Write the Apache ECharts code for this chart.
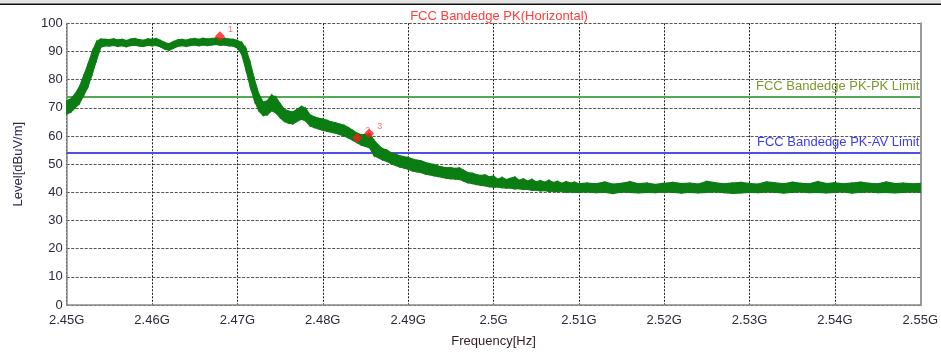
<!DOCTYPE html>
<html>
<head>
<meta charset="utf-8">
<script src="https://cdn.jsdelivr.net/npm/echarts@6/dist/echarts.min.js"></script>
<style>
html,body{margin:0;padding:0;background:#fff;}
#c{width:941px;height:354px;}
</style>
</head>
<body>
<div id="c"></div>
<script>
// Frequency in MHz
var freqMHz = [
2450,2450.5,2451,2451.5,2452,2452.5,2453,2453.5,2454,2454.5,
2455,2455.5,2456,2456.5,2457,2457.5,2458,2458.5,2459,2459.5,
2460,2460.5,2461,2461.5,2462,2462.5,2463,2463.5,2464,2464.5,
2465,2465.5,2466,2466.5,2467,2467.5,2468,2468.5,2469,2469.5,
2470,2470.5,2471,2471.5,2472,2472.5,2473,2473.5,2474,2474.5,
2475,2475.5,2476,2476.5,2477,2477.5,2478,2478.5,2479,2479.5,
2480,2480.5,2481,2481.5,2482,2482.5,2483,2483.5,2484,2484.5,
2485,2485.5,2486,2486.5,2487,2487.5,2488,2488.5,2489,2489.5,
2490,2490.5,2491,2491.5,2492,2492.5,2493,2493.5,2494,2494.5,
2495,2495.5,2496,2496.5,2497,2497.5,2498,2498.5,2499,2499.5,
2500,2500.5,2501,2501.5,2502,2502.5,2503,2503.5,2504,2504.5,
2505,2505.5,2506,2506.5,2507,2507.5,2508,2508.5,2509,2509.5,
2510,2511,2512,2513,2514,2515,2516,2517,2518,2519,
2520,2521,2522,2523,2524,2525,2526,2527,2528,2529,
2530,2531,2532,2533,2534,2535,2536,2537,2538,2539,
2540,2541,2542,2543,2544,2545,2546,2547,2548,2549,2550
];
// Upper envelope of the trace [dBuV/m]
var levelHigh = [
72.5,73.2,75.0,77.5,81.5,85.5,90.0,93.5,94.4,94.3,
94.2,94.5,94.1,94.3,93.9,94.4,94.6,94.2,94.0,94.5,
94.3,94.6,93.9,93.2,92.7,93.5,94.1,94.3,94.0,94.4,
94.6,94.3,94.7,94.4,94.6,94.8,94.5,94.7,94.4,94.3,
93.9,93.2,91.0,86.0,80.0,75.0,72.0,72.5,74.5,73.8,
71.5,69.5,68.8,68.5,69.5,70.5,69.8,67.5,66.8,66.3,
66.0,65.6,65.0,64.7,64.2,63.8,63.0,62.0,61.0,60.5,
60.5,60.8,58.5,56.8,55.5,55.0,54.0,53.6,53.0,52.6,
52.4,51.8,51.4,51.2,50.6,50.2,49.9,49.3,49.0,48.7,
48.8,48.5,48.7,47.8,47.0,46.8,46.3,46.0,46.2,45.5,
45.8,44.6,45.3,44.5,45.0,45.4,44.3,44.8,44.0,44.6,
43.7,44.2,43.6,44.3,43.5,43.9,43.2,43.8,43.3,43.6,
43.0,43.3,43.0,43.7,42.9,43.2,43.8,43.0,43.3,42.8,
43.2,43.5,43.1,43.3,42.9,43.9,43.4,43.0,43.3,43.5,
43.1,42.9,43.7,43.4,43.0,43.6,43.2,43.0,43.8,43.1,
43.4,43.0,43.3,43.6,43.2,43.0,43.7,43.1,43.3,43.0,43.2
];
// Lower envelope of the trace [dBuV/m]
var levelLow = [
67.8,68.5,70.0,71.5,74.5,77.5,82.0,87.0,91.5,92.0,
91.9,92.1,91.8,92.0,91.7,92.1,92.2,91.9,91.8,92.2,
92.0,92.1,91.6,90.8,90.4,91.1,91.8,92.0,91.8,92.1,
92.3,92.0,92.3,92.1,92.3,92.5,92.2,92.3,92.0,91.9,
91.2,89.0,83.5,77.5,72.5,69.0,67.3,67.5,69.0,68.2,
66.5,65.2,64.5,64.3,65.2,66.0,65.3,63.6,63.0,62.5,
62.0,61.7,61.3,61.0,60.5,60.0,59.3,58.5,57.6,56.8,
56.3,55.8,53.0,52.3,51.5,51.0,50.2,49.6,49.0,48.6,
48.2,47.6,47.3,47.0,46.5,46.2,45.9,45.6,45.3,45.0,
44.8,44.7,44.6,44.0,43.4,43.1,42.8,42.5,42.3,42.0,
41.8,41.9,41.6,41.5,41.5,41.2,41.3,41.0,41.0,40.7,
40.8,40.5,40.6,40.3,40.4,40.2,40.3,40.0,40.1,40.0,
40.0,40.1,39.9,40.0,39.6,40.1,40.0,39.8,40.0,39.9,
40.1,40.0,39.7,40.0,39.8,40.0,40.1,39.9,39.6,39.8,
40.0,39.9,40.1,40.0,39.7,40.0,40.1,39.9,40.0,39.8,
40.0,40.1,39.7,40.0,40.1,39.9,40.0,39.8,40.0,40.1,40.0
];
// Markers
var markerNames = ['1','2','3'];
var markerFreqMHz = [2467.95, 2484.03, 2485.43];
var markerLevel = [95.4, 59.3, 60.9];
// Limits
var limitNames = ['FCC Bandedge PK-PK Limit','FCC Bandedge PK-AV Limit'];
var limitValues = [74, 54];
var limitColors = ['#55a955','#4f4fe8'];
var limitTextColors = ['#7a9a2a','#3c3cf0'];
// Axis ticks
var xTicksMHz = [2450,2460,2470,2480,2490,2500,2510,2520,2530,2540,2550];
var yTicks = [0,10,20,30,40,50,60,70,80,90,100];

var chart = echarts.init(document.getElementById('c'), null, {renderer:'canvas'});
var font = '"Liberation Sans", Arial, sans-serif';
var traceColor = '#0b7d12';

// one quad per segment: [f0, hi0, lo0, f1, hi1, lo1]
var bandSegments = [];
for (var i = 0; i < freqMHz.length - 1; i++) {
  bandSegments.push([freqMHz[i], levelHigh[i], levelLow[i], freqMHz[i+1], levelHigh[i+1], levelLow[i+1]]);
}
var markerData = markerFreqMHz.map(function(f,i){return {name:markerNames[i], value:[f, markerLevel[i]]};});

function renderBand(params, api) {
  var a = api.coord([api.value(0), api.value(1)]);
  var b = api.coord([api.value(3), api.value(4)]);
  var c = api.coord([api.value(3), api.value(5)]);
  var d = api.coord([api.value(0), api.value(2)]);
  return {
    type:'polygon',
    shape:{points:[a,b,c,d]},
    style:{fill:traceColor, stroke:traceColor, lineWidth:1.2}
  };
}

var option = {
  animation:false,
  backgroundColor:'#ffffff',
  title:{
    text:'FCC Bandedge PK(Horizontal)',
    left:494, top:5, textAlign:'center',
    textStyle:{color:'#ff3b3b', fontSize:13, fontWeight:'normal', fontFamily:font}
  },
  graphic:[
    {type:'rect', shape:{x:0,y:0,width:941,height:3.5}, style:{fill:'#e4e4e4'}, z:100},
    {type:'rect', shape:{x:0,y:3.5,width:941,height:1.5}, style:{fill:'#111111'}, z:100}
  ],
  grid:{left:66.7, right:20.5, top:23.3, bottom:49, containLabel:false},
  xAxis:{
    type:'value', min:xTicksMHz[0], max:xTicksMHz[xTicksMHz.length-1], interval:10,
    name:'Frequency[Hz]', nameLocation:'middle', nameGap:30,
    nameTextStyle:{color:'#3a1a2a', fontSize:13, fontFamily:font},
    axisLine:{show:true, lineStyle:{color:'#8a8a8a', width:1.5}},
    axisTick:{show:false},
    axisLabel:{color:'#2a2a3a', fontSize:13, fontFamily:font, margin:9,
      formatter:function(v){return (v/1000)+'G';}},
    splitLine:{show:true, lineStyle:{color:'#1a1a1a', type:[2,1.5], width:1}}
  },
  yAxis:[{
    type:'value', min:yTicks[0], max:yTicks[yTicks.length-1], interval:10,
    name:'Level[dBuV/m]', nameLocation:'middle', nameGap:42,
    nameTextStyle:{color:'#2a2a4a', fontSize:13, fontFamily:font},
    axisLine:{show:true, lineStyle:{color:'#8a8a8a', width:1.5}},
    axisTick:{show:false},
    axisLabel:{color:'#2a2a3a', fontSize:13, fontFamily:font, margin:4},
    splitLine:{show:true, lineStyle:{color:'#555555', type:[3,1.5], width:1}}
  },{
    type:'value', min:yTicks[0], max:yTicks[yTicks.length-1], interval:10, position:'right',
    axisLine:{show:true, lineStyle:{color:'#9a9a9a', width:2}},
    axisTick:{show:false}, axisLabel:{show:false}, splitLine:{show:false}
  }],
  series:[
    {
      type:'custom', name:'trace', data:bandSegments, renderItem:renderBand,
      encode:{x:[0,3], y:[1,2,4,5]}, z:3, silent:true,
      markLine:{
        silent:true, symbol:'none', z:2,
        data: limitValues.map(function(v,i){
          return {yAxis:v, name:limitNames[i],
            lineStyle:{color:limitColors[i], width:2, type:'solid'},
            label:{show:true, position:'insideEndTop', formatter:limitNames[i],
              color:limitTextColors[i], fontSize:13, fontFamily:font, distance:[1,4]}};
        })
      }
    },
    {
      type:'scatter', name:'markers', data:markerData, symbol:'diamond', symbolSize:10,
      itemStyle:{color:'#ff1a1a'}, z:5,
      label:{show:true, formatter:'{b}', position:'right', offset:[-2,-7],
        color:'#ff4a4a', fontSize:9, fontFamily:font}
    }
  ]
};
chart.setOption(option);
</script>
</body>
</html>
